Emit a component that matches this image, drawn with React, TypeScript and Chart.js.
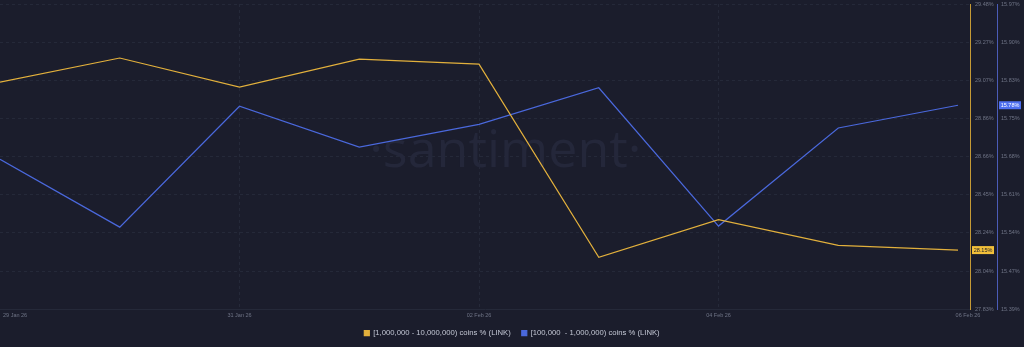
import React, { useEffect, useRef } from 'react';
import { Chart, registerables } from 'chart.js';

Chart.register(...registerables);

const dates = ['29 Jan 26', '30 Jan 26', '31 Jan 26', '01 Feb 26', '02 Feb 26', '03 Feb 26', '04 Feb 26', '05 Feb 26', '06 Feb 26'];
const bigHolders = [29.058, 29.188, 29.031, 29.182, 29.155, 28.111, 28.315, 28.176, 28.15];
const midHolders = [15.677, 15.549, 15.777, 15.7, 15.743, 15.812, 15.551, 15.736, 15.779];
const bigTickLabels = ['27.83%', '28.04%', '28.24%', '28.45%', '28.66%', '28.86%', '29.07%', '29.27%', '29.48%'];
const midTickLabels = ['15.39%', '15.47%', '15.54%', '15.61%', '15.68%', '15.75%', '15.83%', '15.90%', '15.97%'];
const bigRange = [27.83, 29.48];
const midRange = [15.394, 15.97];
const seriesNames = ['[1,000,000 - 10,000,000) coins % (LINK)', '[100,000  - 1,000,000) coins % (LINK)'];

const BG = '#1b1d2c';
const YELLOW = '#e2b03c';
const BLUE = '#4a68dc';
const GRID = '#252939';
const TICK = '#6f7486';
const FONT = '"Liberation Sans", Arial, sans-serif';

export default function App() {
  const ref = useRef<HTMLCanvasElement | null>(null);

  useEffect(() => {
    document.body.style.margin = '0';
    document.body.style.background = BG;
    const canvas = ref.current;
    if (!canvas) return;

    const evenTicks = (range: number[]) => (scale: any) => {
      const n = 8;
      scale.ticks = Array.from({ length: n + 1 }, (_, i) => ({ value: range[0] + ((range[1] - range[0]) * i) / n }));
    };
    const fixPad = (s: any) => {
      s.width = 27;
      s.paddingTop = 4;
      s.paddingBottom = 0;
    };

    const watermark = {
      id: 'watermark',
      beforeDatasetsDraw(chart: any) {
        const { ctx, chartArea } = chart;
        ctx.save();
        ctx.font = '52px "Open Sans", sans-serif';
        ctx.fillStyle = '#24273a';
        ctx.textAlign = 'center';
        ctx.textBaseline = 'alphabetic';
        ctx.fillText('·santiment·', chartArea.left + chartArea.width * 0.521, chartArea.top + 163);
        ctx.restore();
      },
    };

    const extras = {
      id: 'extras',
      afterDraw(chart: any) {
        const { ctx, chartArea } = chart;
        const xs = chart.scales.x;
        ctx.save();
        ctx.font = `5.5px ${FONT}`;
        ctx.fillStyle = TICK;
        ctx.textBaseline = 'middle';
        ctx.textAlign = 'center';
        for (let i = 0; i < dates.length; i += 2) {
          const w = ctx.measureText(dates[i]).width;
          let x = xs.getPixelForValue(i);
          if (i === dates.length - 1) x = chartArea.right - 2;
          x = Math.max(x, chartArea.left + w / 2 + 3);
          ctx.fillText(dates[i], x, chartArea.bottom + 6);
        }
        const badges = [
          { scale: chart.scales.y1, value: bigHolders[bigHolders.length - 1], bg: '#f2c03a', fg: '#1b1d2c' },
          { scale: chart.scales.y2, value: midHolders[midHolders.length - 1], bg: '#4e6ff0', fg: '#ffffff' },
        ];
        for (const b of badges) {
          const y = b.scale.getPixelForValue(b.value);
          const left = b.scale.left + 2;
          ctx.fillStyle = b.bg;
          ctx.fillRect(left, y - 4, 22, 8);
          ctx.fillStyle = b.fg;
          ctx.fillText(b.value.toFixed(2) + '%', left + 11, y + 0.5);
        }
        ctx.restore();
      },
    };

    const chart = new Chart(canvas, {
      type: 'line',
      data: {
        datasets: [
          {
            label: seriesNames[0],
            data: bigHolders.map((v, i) => ({ x: i, y: v })),
            borderColor: YELLOW,
            backgroundColor: YELLOW,
            borderWidth: 1.2,
            pointRadius: 0,
            tension: 0,
            yAxisID: 'y1',
          },
          {
            label: seriesNames[1],
            data: midHolders.map((v, i) => ({ x: i, y: v })),
            borderColor: BLUE,
            backgroundColor: BLUE,
            borderWidth: 1.2,
            pointRadius: 0,
            tension: 0,
            yAxisID: 'y2',
          },
        ],
      },
      options: {
        animation: false,
        responsive: true,
        maintainAspectRatio: false,
        layout: { padding: { top: 0, left: 0, right: 0, bottom: 0 } },
        plugins: {
          tooltip: { enabled: false },
          legend: {
            position: 'bottom',
            labels: {
              boxWidth: 5,
              boxHeight: 5,
              padding: 11,
              color: '#c3c7d4',
              font: { size: 7.7, family: FONT },
            },
          },
        },
        scales: {
          x: {
            type: 'linear',
            min: 0,
            max: 8.1,
            ticks: { display: false, stepSize: 2 },
            grid: {
              drawTicks: false,
              color: (c: any) => ([2, 4, 6].includes(c.tick?.value) ? GRID : 'rgba(0,0,0,0)'),
              lineWidth: 1,
            },
            border: { display: true, color: GRID, dash: [3, 3] },
            afterFit: (s: any) => {
              s.height = 9;
            },
          },
          y1: {
            type: 'linear',
            position: 'right',
            min: bigRange[0],
            max: bigRange[1],
            afterBuildTicks: evenTicks(bigRange),
            ticks: {
              padding: 5,
              color: TICK,
              font: { size: 5.5, family: FONT },
              callback: (_v: any, i: number) => bigTickLabels[i],
            },
            grid: { drawTicks: false, color: GRID },
            border: { display: true, color: '#c59a35', dash: [3, 3] },
            afterFit: fixPad,
          },
          y2: {
            type: 'linear',
            position: 'right',
            min: midRange[0],
            max: midRange[1],
            afterBuildTicks: evenTicks(midRange),
            ticks: {
              padding: 4,
              color: TICK,
              font: { size: 5.5, family: FONT },
              callback: (_v: any, i: number) => midTickLabels[i],
            },
            grid: { display: false, drawTicks: false },
            border: { display: true, color: '#4b5cb8' },
            afterFit: fixPad,
          },
        },
      },
      plugins: [watermark, extras],
    } as any);

    return () => chart.destroy();
  }, []);

  return (
    <div style={{ width: 1024, height: 347, position: 'relative', background: BG }}>
      <canvas ref={ref} />
    </div>
  );
}
